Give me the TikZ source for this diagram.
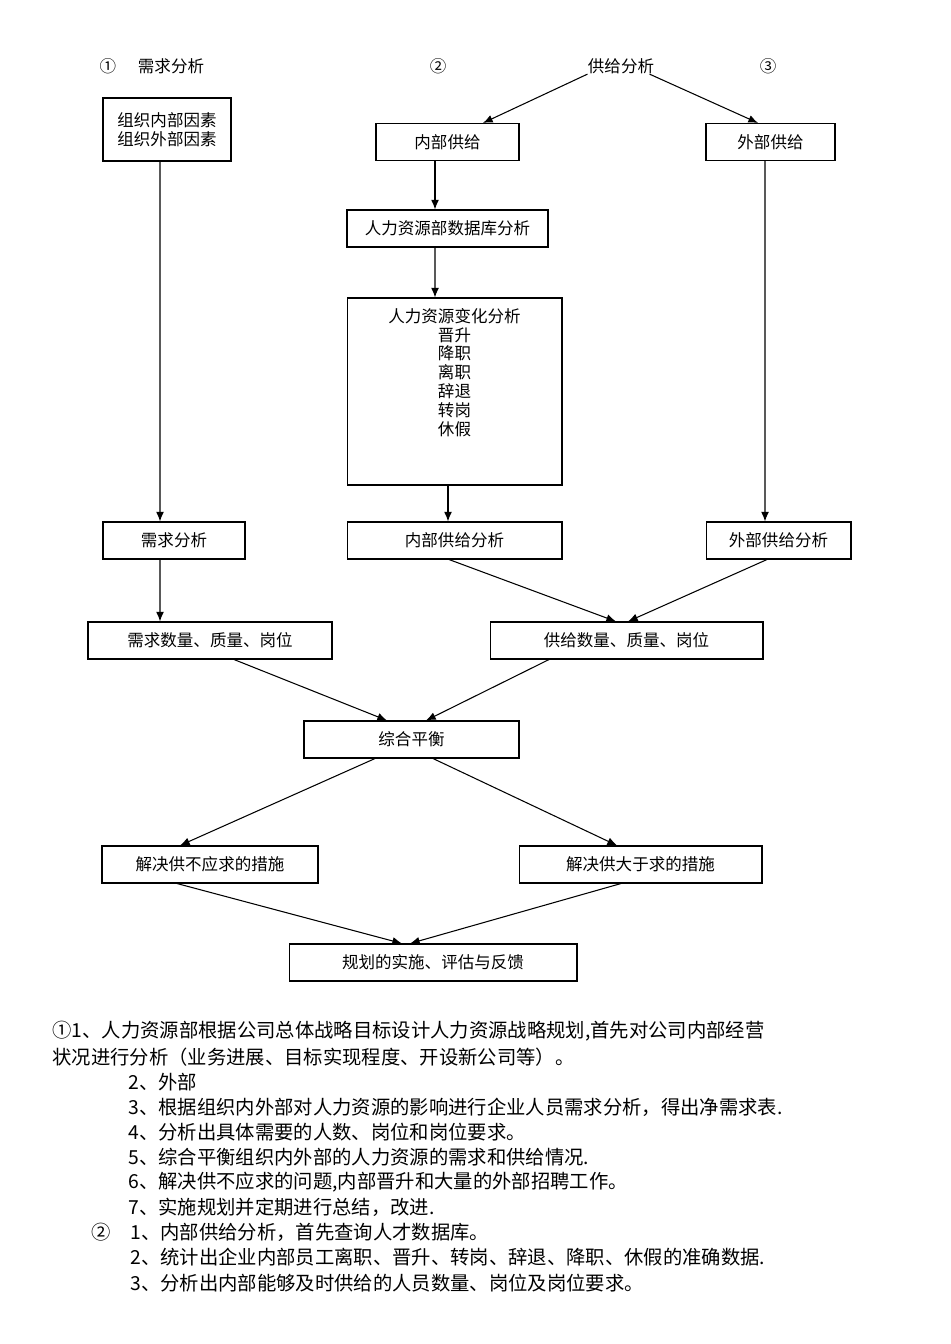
\documentclass[tikz,border=0pt]{standalone}
\usepackage{fontspec}
\setmainfont{Noto Sans CJK SC}
\usetikzlibrary{arrows.meta,positioning}

\begin{document}
\begin{tikzpicture}
  [x=0.02cm, y=-0.02cm, line width=0.6pt, >={Latex[length=5.5pt,width=4.5pt]},
   boxed/.style={rectangle, draw, minimum height=0.74cm, inner sep=0pt,
     align=center, font=\fontsize{9.4pt}{10.8pt}\selectfont},
   heading/.style={inner sep=0pt, font=\fontsize{9.4pt}{10.8pt}\selectfont},
   notes/.style={anchor=west, inner sep=0pt, font=\fontsize{11pt}{13pt}\selectfont}]

  \useasboundingbox (0,0) rectangle (950,1344);

  % headings
  \node [heading] (one) at (108,66) {①};
  \node [heading] (demlabel) at (171,66) {需求分析};
  \node [heading] (two) at (438,66) {②};
  \node [heading] (supana) at (621,66) {供给分析};
  \node [heading] (three) at (768,66) {③};

  % boxes
  \node [boxed, minimum width=2.56cm, minimum height=1.26cm] (factors) at (167,129.5)
    {组织内部因素\\组织外部因素};
  \node [boxed, minimum width=2.86cm] (intsup) at (447.5,142) {内部供给};
  \node [boxed, minimum width=2.58cm] (extsup) at (770.5,142) {外部供给};
  \node [boxed, minimum width=4.02cm] (hrdb) at (447.5,228.5) {人力资源部数据库分析};
  \node [boxed, minimum width=4.3cm, minimum height=3.74cm] (change) at (454.5,391.5) {};
  \node [heading, align=center, below=0.2cm of change.north] (changetxt)
    {人力资源变化分析\\晋升\\降职\\离职\\辞退\\转岗\\休假};
  \node [boxed, minimum width=2.84cm] (demand) at (174,540.5) {需求分析};
  \node [boxed, minimum width=4.3cm] (intana) at (454.5,540.5) {内部供给分析};
  \node [boxed, minimum width=2.9cm] (extana) at (778.5,540.5) {外部供给分析};
  \node [boxed, minimum width=4.88cm] (demq) at (210,640.5) {需求数量、质量、岗位};
  \node [boxed, minimum width=5.46cm] (supq) at (626.5,640.5) {供给数量、质量、岗位};
  \node [boxed, minimum width=4.3cm] (balance) at (411.5,739.5) {综合平衡};
  \node [boxed, minimum width=4.32cm] (lack) at (210,864.5) {解决供不应求的措施};
  \node [boxed, minimum width=4.86cm] (surplus) at (640.5,864.5) {解决供大于求的措施};
  \node [boxed, minimum width=5.76cm] (plan) at (433,962.5) {规划的实施、评估与反馈};

  % connectors
  \draw [->] (supana.south west) -- ([xshift=0.71cm]intsup.north);
  \draw [->] ([xshift=-0.1cm]supana.south east) -- ([xshift=-0.25cm]extsup.north);
  \draw [->] ([xshift=-0.14cm]factors.south) -- ([xshift=-0.28cm]demand.north);
  \draw [->] ([xshift=-0.25cm]intsup.south) -- ([xshift=-0.25cm]hrdb.north);
  \draw [->] ([xshift=-0.25cm]hrdb.south) -- ([xshift=-0.39cm]change.north);
  \draw [->] ([xshift=-0.13cm]change.south) -- ([xshift=-0.13cm]intana.north);
  \draw [->] ([xshift=-0.11cm]extsup.south) -- ([xshift=-0.27cm]extana.north);
  \draw [->] ([xshift=-0.28cm]demand.south) -- ([xshift=-1.0cm]demq.north);
  \draw [->] ([xshift=-0.11cm]intana.south) -- ([xshift=-0.21cm]supq.north);
  \draw [->] ([xshift=-0.23cm]extana.south) -- ([xshift=0.03cm]supq.north);
  \draw [->] ([xshift=0.48cm]demq.south) -- ([xshift=-0.49cm]balance.north);
  \draw [->] ([xshift=-1.55cm]supq.south) -- ([xshift=0.29cm]balance.north);
  \draw [->] ([xshift=-0.73cm]balance.south) -- ([xshift=-0.6cm]lack.north);
  \draw [->] ([xshift=0.43cm]balance.south) -- ([xshift=-0.47cm]surplus.north);
  \draw [->] ([xshift=-0.66cm]lack.south) -- ([xshift=-0.62cm]plan.north);
  \draw [->] ([xshift=-0.39cm]surplus.south) -- ([xshift=-0.46cm]plan.north);

  % notes below
  \node [notes] (note1) at (52,1031) {①1、人力资源部根据公司总体战略目标设计人力资源战略规划,首先对公司内部经营};
  \node [notes] (note1b) at (52,1057) {状况进行分析（业务进展、目标实现程度、开设新公司等）。};
  \node [notes] (note2) at (128,1082) {2、外部};
  \node [notes] (note3) at (128,1107) {3、根据组织内外部对人力资源的影响进行企业人员需求分析，得出净需求表.};
  \node [notes] (note4) at (128,1132) {4、分析出具体需要的人数、岗位和岗位要求。};
  \node [notes] (note5) at (128,1157) {5、综合平衡组织内外部的人力资源的需求和供给情况.};
  \node [notes] (note6) at (128,1182) {6、解决供不应求的问题,内部晋升和大量的外部招聘工作。};
  \node [notes] (note7) at (128,1207) {7、实施规划并定期进行总结，改进.};
  \node [notes] (mark2) at (91,1232) {②};
  \node [notes] (sup1) at (130,1232) {1、内部供给分析，首先查询人才数据库。};
  \node [notes] (sup2) at (130,1257) {2、统计出企业内部员工离职、晋升、转岗、辞退、降职、休假的准确数据.};
  \node [notes] (sup3) at (130,1283) {3、分析出内部能够及时供给的人员数量、岗位及岗位要求。};
\end{tikzpicture}
\end{document}
